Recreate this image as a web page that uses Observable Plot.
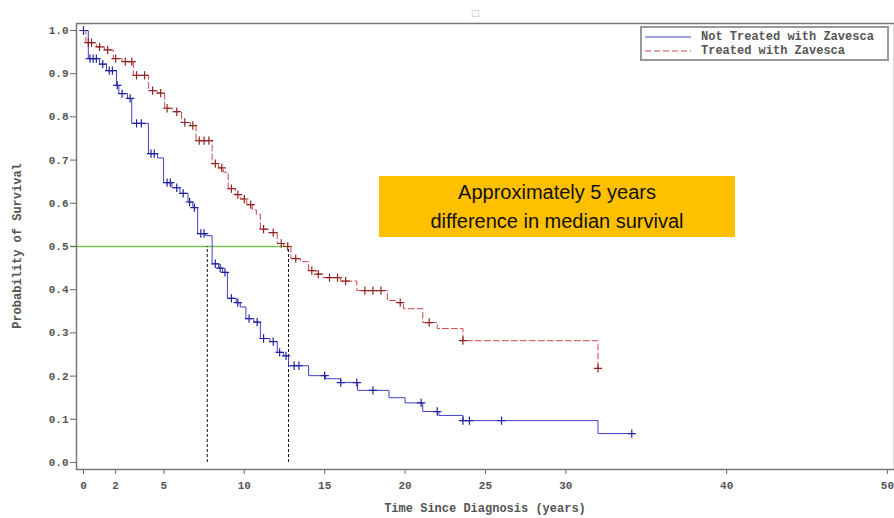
<!DOCTYPE html>
<html><head><meta charset="utf-8">
<script src="https://cdn.jsdelivr.net/npm/d3@7"></script>
<script src="https://cdn.jsdelivr.net/npm/@observablehq/plot@0.6"></script>
<style>
body{margin:0;background:#fff;}
#wrap{position:relative;width:894px;height:518px;overflow:hidden;background:#fff;}
#wrap > svg{position:absolute;left:0;top:0;}
.mono{font-family:"Liberation Mono","DejaVu Sans Mono",monospace;font-weight:bold;font-size:12px;color:#555;}
#note{position:absolute;left:379px;top:176px;width:356px;height:61px;background:#FFC000;
  font-family:"Liberation Sans",Arial,sans-serif;font-size:20px;line-height:29px;color:#111;text-align:center;padding-top:2px;box-sizing:border-box;}
#legend{position:absolute;left:640px;top:26px;width:249px;height:35px;border:2px solid #999;box-sizing:border-box;background:#fff;}
.lrow{position:absolute;left:3px;height:14px;display:flex;align-items:center;white-space:nowrap;}
.lrow svg{display:block;}
#xt{position:absolute;left:0;width:970px;top:502px;text-align:center;}
#yt{position:absolute;left:18px;top:246px;transform:translate(-50%,-50%) rotate(-90deg);white-space:nowrap;}
#mark{position:absolute;left:471px;top:8px;font-size:9px;color:#bbb;font-family:"DejaVu Sans",sans-serif;}
</style></head><body><div id="wrap"></div>
<script>
// Not treated with Zavesca: Kaplan-Meier step times (years) and survival
const notTreatedTime = [0, 0.3, 1.0, 1.43, 2.05, 2.2, 2.74, 3.0, 4.04, 4.6, 4.98, 5.5, 6.0, 6.5, 6.8, 7.1, 7.6, 8.0, 8.4, 8.65, 8.95, 9.5, 9.75, 10.1, 10.6, 11.0, 11.6, 12.05, 12.45, 12.75, 14.0, 15.05, 16.0, 17.05, 19.0, 20.0, 21.1, 22.1, 23.6, 32.0, 34.1];
const notTreatedSurv = [1.0, 0.935, 0.922, 0.907, 0.873, 0.854, 0.843, 0.785, 0.715, 0.705, 0.648, 0.636, 0.623, 0.603, 0.59, 0.53, 0.525, 0.46, 0.45, 0.44, 0.38, 0.37, 0.36, 0.333, 0.325, 0.287, 0.28, 0.255, 0.247, 0.224, 0.201, 0.194, 0.185, 0.167, 0.15, 0.138, 0.118, 0.109, 0.097, 0.067, 0.067];
const notTreatedCensor = [0, 0.4, 0.6, 0.8, 1.2, 1.6, 1.8, 2.1, 2.4, 2.9, 3.3, 3.6, 4.2, 4.4, 5.2, 5.4, 5.8, 6.2, 6.6, 6.9, 7.3, 7.5, 8.2, 8.5, 8.8, 9.2, 9.6, 10.3, 10.8, 11.2, 11.8, 12.2, 12.6, 13.1, 13.4, 15.0, 16.0, 17.0, 18.0, 21.0, 22.0, 23.6, 24.0, 26.0, 34.1];

// Treated with Zavesca
const treatedTime = [0, 0.15, 0.8, 1.3, 1.85, 2.4, 3.1, 4.05, 4.6, 5.05, 5.55, 6.1, 6.65, 7.0, 8.0, 8.4, 8.7, 9.0, 9.45, 9.75, 10.15, 10.5, 10.75, 11.0, 11.5, 12.05, 12.45, 12.9, 13.5, 14.0, 14.5, 14.9, 16.0, 17.0, 18.9, 19.5, 19.9, 21.1, 22.0, 23.6, 32.0];
const treatedSurv = [1.0, 0.972, 0.962, 0.955, 0.935, 0.928, 0.896, 0.861, 0.855, 0.82, 0.812, 0.787, 0.78, 0.745, 0.692, 0.682, 0.672, 0.634, 0.62, 0.61, 0.597, 0.585, 0.575, 0.54, 0.532, 0.507, 0.5, 0.472, 0.465, 0.444, 0.436, 0.428, 0.42, 0.398, 0.375, 0.37, 0.356, 0.324, 0.31, 0.282, 0.218];
const treatedCensor = [0.3, 0.5, 1.0, 1.5, 2.0, 2.6, 3.0, 3.3, 3.8, 4.3, 4.8, 5.2, 5.8, 6.3, 6.8, 7.2, 7.5, 7.8, 8.2, 8.6, 9.2, 9.6, 10.0, 10.4, 11.2, 11.8, 12.3, 12.7, 13.2, 14.2, 14.6, 15.3, 15.8, 16.3, 17.5, 18.0, 18.5, 19.7, 21.5, 23.6, 32.0];

const xTicks = [0, 2, 5, 10, 15, 20, 25, 30, 40, 50];
const yTicks = [0, 0.1, 0.2, 0.3, 0.4, 0.5, 0.6, 0.7, 0.8, 0.9, 1.0];
const medianLevel = [0.5];
const medianTimes = [7.7, 12.75];
const medianLineEnd = 12.9;

const seriesNames = ["Not Treated with Zavesca", "Treated with Zavesca"];
const texts = {
  xLabel: "Time Since Diagnosis (years)",
  yLabel: "Probability of Survival",
  note1: "Approximately 5 years",
  note2: "difference in median survival"
};

const blueLine = "#4040cc", blueMark = "#22229a";
const redLine = "#d04848", redMark = "#8e2525";

const steps = (times, survs) => times.map((t, i) => ({t, s: survs[i]}));
const survAt = (times, survs, t) => survs[Math.max(0, d3.bisectRight(times, t) - 1)];
const censors = (c, times, survs) => c.map(t => ({t, s: survAt(times, survs, t)}));

const blue = steps(notTreatedTime, notTreatedSurv);
const red = steps(treatedTime, treatedSurv);
const blueC = censors(notTreatedCensor, notTreatedTime, notTreatedSurv);
const redC = censors(treatedCensor, treatedTime, treatedSurv);

const chart = Plot.plot({
  width: 894,
  height: 518,
  marginLeft: 76,
  marginRight: 0,
  marginTop: 23,
  marginBottom: 49,
  style: {fontFamily: "'Liberation Mono', monospace", fontSize: "11px", fontWeight: "bold", color: "#555", background: "transparent"},
  x: {domain: [-0.435, 50.44]},
  y: {domain: [-0.0162, 1.0162]},
  marks: [
    Plot.ruleY(medianLevel, {x1: -0.8, x2: medianLineEnd, stroke: "#7cc04f", strokeWidth: 1.5, clip: false}),
    Plot.ruleX(medianTimes, {y1: 0, y2: 0.5, stroke: "#111", strokeDasharray: "3,2", strokeWidth: 1}),
    Plot.line(red, {x: "t", y: "s", curve: "step-after", stroke: redLine, strokeWidth: 1, strokeDasharray: "6,3"}),
    Plot.line(blue, {x: "t", y: "s", curve: "step-after", stroke: blueLine, strokeWidth: 1}),
    Plot.dot(redC, {x: "t", y: "s", symbol: "plus", r: 2.8, stroke: redMark, strokeWidth: 1.2}),
    Plot.dot(blueC, {x: "t", y: "s", symbol: "plus", r: 2.8, stroke: blueMark, strokeWidth: 1.2}),
    Plot.axisY({ticks: yTicks, tickFormat: d => d.toFixed(1), tickSize: 6, tickPadding: 2, label: null, stroke: "#666", fill: "#555"}),
    Plot.axisX({ticks: xTicks, tickFormat: d => String(d), tickSize: 5, tickPadding: 7, label: null, stroke: "#666", fill: "#555"}),
    Plot.frame({stroke: "#777", strokeWidth: 1.5})
  ]
});

const wrap = document.getElementById("wrap");
wrap.appendChild(chart);
wrap.insertAdjacentHTML("beforeend", `
  <div id="mark">□</div>
  <div id="note">${texts.note1}<br>${texts.note2}</div>
  <div id="legend" class="mono">
    <div class="lrow" style="top:2px"><svg width="48" height="10"><line x1="0" y1="5" x2="46" y2="5" stroke="${blueLine}" stroke-width="1"/></svg><span style="margin-left:8px">${seriesNames[0]}</span></div>
    <div class="lrow" style="top:16px"><svg width="48" height="10"><line x1="0" y1="5" x2="46" y2="5" stroke="${redLine}" stroke-width="1" stroke-dasharray="6,3"/></svg><span style="margin-left:8px">${seriesNames[1]}</span></div>
  </div>
  <div id="xt" class="mono">${texts.xLabel}</div>
  <div id="yt" class="mono">${texts.yLabel}</div>
`);
</script>
</body></html>
